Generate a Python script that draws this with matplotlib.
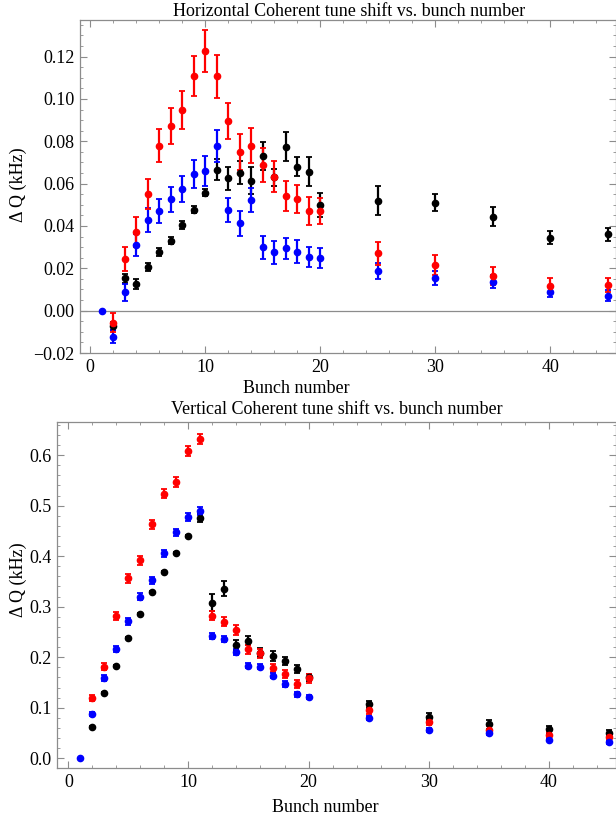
import numpy as np
import matplotlib.pyplot as plt
from matplotlib.ticker import MultipleLocator, FuncFormatter

plt.rcParams['font.family'] = ['Liberation Serif', 'DejaVu Serif']

bunch = [1, 2, 3, 4, 5, 6, 7, 8, 9, 10, 11, 12, 13, 14, 15, 16, 17, 18, 19, 20, 25, 30, 35, 40, 45]

# horizontal tune shift (kHz)
h_red = [np.nan, -0.0057, 0.0244, 0.0373, 0.055, 0.078, 0.0874, 0.0948, 0.1109, 0.1227, 0.1106,
         0.0896, 0.0751, 0.078, 0.0688, 0.0633, 0.0543, 0.0528, 0.047, 0.047,
         0.0271, 0.0216, 0.0164, 0.0117, 0.0121]
h_red_err = [0, 0.0045, 0.0055, 0.007, 0.007, 0.008, 0.0085, 0.009, 0.0095, 0.0098, 0.010,
             0.0083, 0.0085, 0.0083, 0.0079, 0.0073, 0.007, 0.0067, 0.0065, 0.0063,
             0.0053, 0.0046, 0.0042, 0.0035, 0.0035]
h_blue = [0.0, -0.0123, 0.0088, 0.031, 0.0428, 0.047, 0.0526, 0.0575, 0.0646, 0.0661, 0.0778,
          0.0476, 0.0413, 0.0523, 0.0299, 0.0276, 0.0294, 0.0279, 0.0255, 0.0247,
          0.0187, 0.0153, 0.0137, 0.0087, 0.0071]
h_blue_err = [0, 0.003, 0.004, 0.005, 0.0055, 0.0058, 0.006, 0.0063, 0.0067, 0.007, 0.0074,
              0.0057, 0.0058, 0.0058, 0.0054, 0.0054, 0.0051, 0.0053, 0.0047, 0.0047,
              0.0038, 0.0034, 0.003, 0.0024, 0.0027]
h_black = [np.nan, -0.0072, 0.0153, 0.0126, 0.0208, 0.0276, 0.0331, 0.0405, 0.0476, 0.0557, 0.0665,
           0.0625, 0.0652, 0.0614, 0.0731, 0.063, 0.0775, 0.068, 0.0657, 0.0499,
           0.052, 0.051, 0.0444, 0.0345, 0.0361]
h_black_err = [0, 0.002, 0.002, 0.0022, 0.0019, 0.002, 0.0018, 0.0019, 0.0016, 0.0017, 0.005,
               0.0055, 0.0053, 0.0065, 0.0065, 0.004, 0.007, 0.0045, 0.0067, 0.0055,
               0.0068, 0.004, 0.0044, 0.0031, 0.0031]

# vertical tune shift (kHz)
v_red = [np.nan, 0.1187, 0.1813, 0.2815, 0.356, 0.392, 0.4635, 0.524, 0.546, 0.6086, 0.631,
         0.282, 0.270, 0.254, 0.2156, 0.2077, 0.1793, 0.166, 0.1464, 0.158,
         0.0956, 0.0725, 0.057, 0.046, 0.0415]
v_red_err = [0, 0.006, 0.007, 0.008, 0.009, 0.009, 0.009, 0.009, 0.01, 0.01, 0.01,
             0.009, 0.009, 0.009, 0.009, 0.009, 0.008, 0.008, 0.008, 0.008,
             0.007, 0.007, 0.006, 0.006, 0.006]
v_blue = [0.0, 0.087, 0.158, 0.2156, 0.2716, 0.32, 0.3527, 0.4055, 0.447, 0.478, 0.489,
          0.242, 0.236, 0.2097, 0.1833, 0.1813, 0.163, 0.147, 0.127, 0.1207,
          0.0804, 0.056, 0.050, 0.0363, 0.0316]
v_blue_err = [0, 0.004, 0.006, 0.006, 0.007, 0.007, 0.007, 0.007, 0.007, 0.008, 0.008,
              0.006, 0.006, 0.006, 0.005, 0.005, 0.005, 0.005, 0.005, 0.004,
              0.004, 0.004, 0.003, 0.003, 0.003]
v_black = [np.nan, 0.0613, 0.130, 0.1833, 0.2387, 0.2848, 0.3297, 0.368, 0.4068, 0.439, 0.4747,
           0.308, 0.336, 0.224, 0.2327, 0.209, 0.2024, 0.1925, 0.1767, 0.160,
           0.1068, 0.0824, 0.0672, 0.0574, 0.0508]
v_black_err = [0, 0.002, 0.002, 0.002, 0.002, 0.002, 0.002, 0.002, 0.002, 0.002, 0.008,
               0.017, 0.015, 0.01, 0.009, 0.009, 0.009, 0.007, 0.008, 0.007,
               0.007, 0.007, 0.009, 0.007, 0.006]

fig = plt.figure(figsize=(6.16, 8.25), dpi=100)
ax1 = fig.add_axes([0.1299, 0.5721, 0.8701, 0.4037])
ax2 = fig.add_axes([0.093, 0.0687, 0.907, 0.4201])

gray = '#8c8c8c'

def style(ax):
    for s in ax.spines.values():
        s.set_color(gray)
        s.set_linewidth(0.9)
    ax.tick_params(which='both', direction='in', top=True, right=True, color=gray,
                   labelsize=13, pad=4)
    ax.tick_params(which='major', length=5)
    ax.tick_params(which='minor', length=2.5)
    ax.xaxis.set_major_locator(MultipleLocator(10))
    ax.xaxis.set_minor_locator(MultipleLocator(2))

def fmt(nd):
    return FuncFormatter(lambda v, p: f'{v:.{nd}f}'.replace('-', '\u2212'))

def draw(ax, series):
    for y, e, c in series:
        ax.errorbar(bunch, y, yerr=e, fmt='o', color=c, ms=4.5, elinewidth=1.6,
                    capsize=2.4, capthick=1.3, clip_on=False)

ax1.axhline(0, color=gray, lw=0.9, zorder=0)
draw(ax1, [(h_black, h_black_err, 'black'), (h_blue, h_blue_err, 'blue'),
           (h_red, h_red_err, 'red')])
ax1.set_xlim(-0.87, 45.7)
ax1.set_ylim(-0.02, 0.1373)
style(ax1)
ax1.yaxis.set_major_locator(MultipleLocator(0.02))
ax1.yaxis.set_minor_locator(MultipleLocator(0.005))
ax1.yaxis.set_major_formatter(fmt(2))

draw(ax2, [(v_black, v_black_err, 'black'), (v_red, v_red_err, 'red'),
           (v_blue, v_blue_err, 'blue')])
ax2.set_xlim(-0.92, 45.6)
ax2.set_ylim(-0.0198, 0.666)
style(ax2)
ax2.yaxis.set_major_locator(MultipleLocator(0.1))
ax2.yaxis.set_minor_locator(MultipleLocator(0.02))
ax2.yaxis.set_major_formatter(fmt(1))

fig.text(349 / 616, 1 - 12 / 825, 'Horizontal Coherent tune shift vs. bunch number',
         ha='center', va='center', fontsize=13)
fig.text(296 / 616, 1 - 389 / 825, 'Bunch number', ha='center', va='center', fontsize=13)
fig.text(18 / 616, 1 - 185 / 825, 'Δ Q (kHz)', rotation=90, ha='center', va='center', fontsize=13)

fig.text(337 / 616, 1 - 410 / 825, 'Vertical Coherent tune shift vs. bunch number',
         ha='center', va='center', fontsize=13)
fig.text(325 / 616, 1 - 808 / 825, 'Bunch number', ha='center', va='center', fontsize=13)
fig.text(18 / 616, 1 - 580 / 825, 'Δ Q (kHz)', rotation=90, ha='center', va='center', fontsize=13)

fig.savefig('out.png', dpi=100)
